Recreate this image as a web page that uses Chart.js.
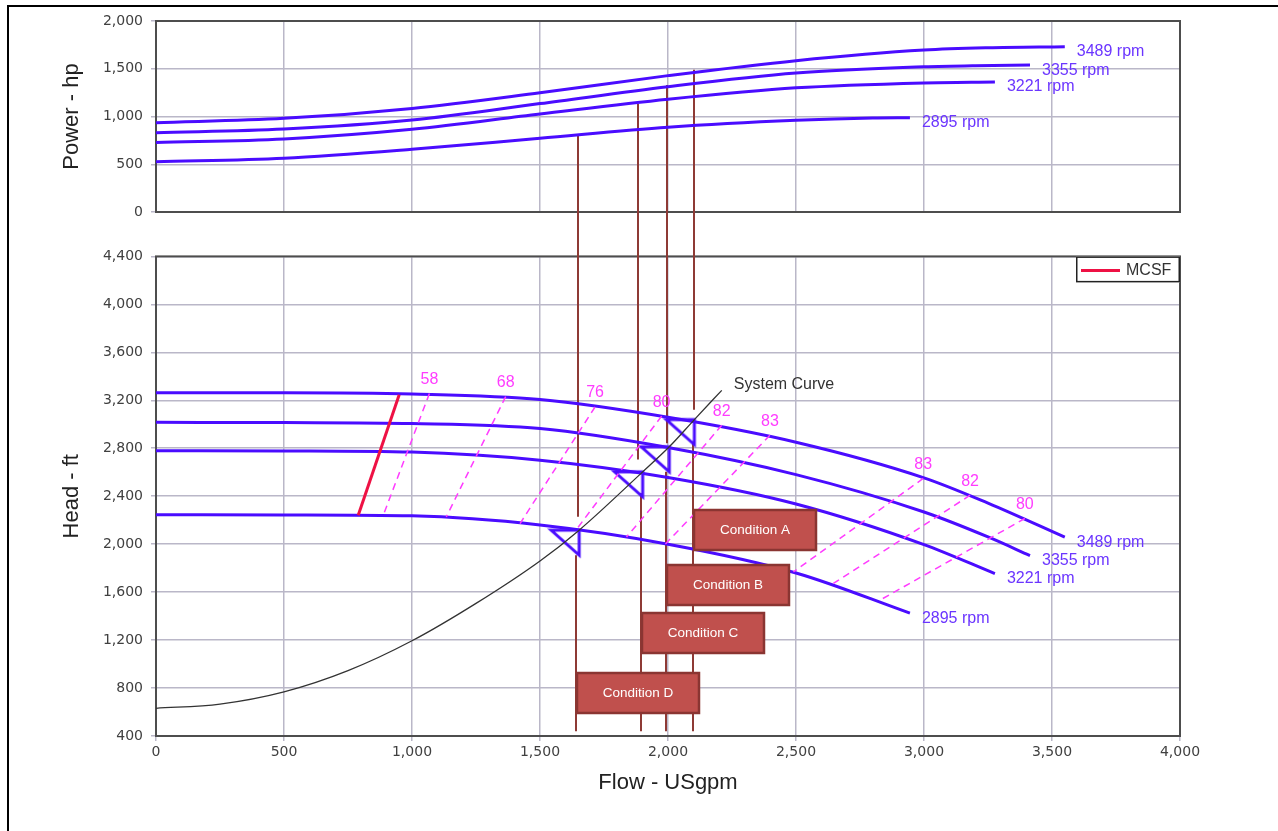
<!DOCTYPE html>
<html>
<head>
<meta charset="utf-8">
<script src="https://cdn.jsdelivr.net/npm/chart.js@4.4.1/dist/chart.umd.min.js"></script>
<style>
  html, body { margin: 0; padding: 0; background: #fff; overflow: hidden; }
  body { width: 1278px; height: 831px; position: relative; }
  #frame { position: absolute; left: 7px; top: 5px; width: 1290px; height: 840px; border: 2px solid #000; box-sizing: border-box; }
  canvas { position: absolute; left: 0; }
  #powerChart { top: 0; }
  #headChart { top: 240px; }
</style>
</head>
<body>
<div id="frame"></div>
<canvas id="powerChart" width="1278" height="240"></canvas>
<canvas id="headChart" width="1278" height="591"></canvas>
<script>
// axis ticks
const flowTicks = [0, 500, 1000, 1500, 2000, 2500, 3000, 3500, 4000];
const powerTicks = [0, 500, 1000, 1500, 2000];
const headTicks = [400, 800, 1200, 1600, 2000, 2400, 2800, 3200, 3600, 4000, 4400];

// power curves (hp vs USgpm)
const powerFlow3489 = [0, 500, 1000, 1500, 2000, 2500, 3000, 3250, 3550];
const power3489 = [935, 981, 1085, 1249, 1428, 1585, 1696, 1720, 1731];
const powerFlow3355 = [0, 500, 1000, 1500, 2000, 2500, 3000, 3200, 3414];
const power3355 = [830, 869, 963, 1135, 1312, 1455, 1520, 1532, 1538];
const powerFlow3221 = [0, 500, 1000, 1500, 2000, 2500, 3000, 3277];
const power3221 = [728, 765, 866, 1026, 1180, 1300, 1352, 1362];
const powerFlow2895 = [0, 500, 1000, 1500, 2000, 2500, 2800, 2945];
const power2895 = [525, 563, 656, 772, 887, 960, 985, 988];

// head curves (ft vs USgpm)
const headFlow3489 = [0, 500, 1000, 1500, 2000, 2500, 3000, 3250, 3550];
const head3489 = [3262, 3262, 3252, 3206, 3058, 2850, 2553, 2342, 2058];
const headFlow3355 = [0, 500, 1000, 1500, 2000, 2500, 3000, 3250, 3414];
const head3355 = [3016, 3014, 3006, 2964, 2806, 2580, 2268, 2060, 1905];
const headFlow3221 = [0, 500, 1000, 1500, 2000, 2500, 3000, 3277];
const head3221 = [2780, 2778, 2768, 2700, 2556, 2335, 1996, 1754];
const headFlow2895 = [0, 500, 1000, 1500, 2000, 2500, 2945];
const head2895 = [2246, 2244, 2236, 2160, 2000, 1760, 1425];

const mcsfFlow = [790, 950];
const mcsfHead = [2242, 3247];

const systemFlow = [0, 250, 500, 750, 1000, 1250, 1500, 1653, 1901, 2005, 2103, 2210];
const systemHead = [631, 666, 768, 945, 1194, 1506, 1860, 2117, 2603, 2812, 3039, 3283];

// efficiency lines, from the 3489 rpm curve down to the 2895 rpm curve
const effLabels = ['58', '68', '76', '80', '82', '83', '83', '82', '80'];
const effTopFlow = [1068, 1366, 1715, 1975, 2210, 2398, 2997, 3180, 3394];
const effTopHead = [3256, 3231, 3144, 3068, 2992, 2908, 2548, 2408, 2214];
const effBottomFlow = [888, 1134, 1422, 1645, 1838, 1990, 2490, 2646, 2828];
const effBottomHead = [2242, 2227, 2172, 2130, 2060, 2002, 1769, 1672, 1533];

// operating points on the system curve
const dutyFlow = [2103, 2005, 1901, 1653];
const dutyHead = [3039, 2812, 2603, 2117];

// conditions
const conditions = ['Condition A', 'Condition B', 'Condition C', 'Condition D'];
const condFlow = [2100, 1998, 1881, 1647];
const condPower = [1490, 1330, 1131, 813];
const condHeadTop = [3122, 2842, 2706, 2228];
const condLowFlow = [2096, 1994, 1895, 1642];
const condLowHead = [2853, 2603, 2425, 1908];
const condLineEnd = 440;
const condBoxHead = [2117, 1658, 1261, 761];

const blue = '#4a0cff';
const rpmText = '#6b35ff';
const magenta = '#ff3cff';
const brown = '#8e3a35';
const gridColor = '#bab7c8';
const tickColor = '#404040';
const tickFont = { family: 'DejaVu Sans', size: 14 };
const titleFont = { family: 'Liberation Sans', size: 22 };

const pts = (xs, ys) => xs.map((x, i) => ({ x, y: ys[i] }));
const fmt = v => v.toLocaleString('en-US');

function curve(label, xs, ys) {
    return {
        label, data: pts(xs, ys), borderColor: blue, borderWidth: 3,
        pointRadius: 0, cubicInterpolationMode: 'monotone', rpm: true
    };
}

function xScale(labels) {
    return {
        type: 'linear', min: 0, max: 4000,
        afterBuildTicks: s => { s.ticks = flowTicks.map(v => ({ value: v })); },
        grid: { color: gridColor, lineWidth: 1.5, tickLength: 5, drawTicks: labels },
        border: { display: false },
        ticks: { display: labels, font: tickFont, color: tickColor, padding: 3, maxRotation: 0, autoSkip: false, callback: fmt },
        title: { display: labels, text: 'Flow - USgpm', font: titleFont, color: '#222', padding: { top: 4, bottom: 35 } },
        afterFit: s => { s.height = labels ? 95 : 28; }
    };
}

function yScale(min, max, ticks, title) {
    return {
        min, max,
        afterBuildTicks: s => { s.ticks = ticks.map(v => ({ value: v })); },
        grid: { color: gridColor, lineWidth: 1.5, tickLength: 5 },
        border: { display: false },
        ticks: { font: tickFont, color: tickColor, padding: 8, autoSkip: false, callback: fmt },
        title: { display: true, text: title, font: titleFont, color: '#222', padding: { top: 59, bottom: 0 } },
        afterFit: s => { s.width = 156; }
    };
}

const framePlugin = {
    id: 'frame',
    beforeDatasetsDraw(chart) {
        const a = chart.chartArea, ctx = chart.ctx;
        ctx.save();
        ctx.strokeStyle = '#4d4d4d';
        ctx.lineWidth = 2;
        ctx.strokeRect(a.left, a.top, a.right - a.left, a.bottom - a.top);
        ctx.restore();
    }
};

const rpmLabels = {
    id: 'rpmLabels',
    afterDatasetsDraw(chart) {
        const ctx = chart.ctx;
        ctx.save();
        ctx.font = '16px "Liberation Sans"';
        ctx.fillStyle = rpmText;
        ctx.textBaseline = 'middle';
        chart.data.datasets.forEach((ds, i) => {
            if (!ds.rpm) return;
            const els = chart.getDatasetMeta(i).data;
            const p = els[els.length - 1];
            ctx.fillText(ds.label, p.x + 12, p.y + 5);
        });
        ctx.restore();
    }
};

const powerCondLines = {
    id: 'powerCondLines',
    beforeDatasetsDraw(chart) {
        const { ctx, scales: { x, y } } = chart;
        ctx.save();
        ctx.strokeStyle = brown;
        ctx.lineWidth = 2;
        condFlow.forEach((f, i) => {
            const px = Math.round(x.getPixelForValue(f));
            ctx.beginPath();
            ctx.moveTo(px, y.getPixelForValue(condPower[i]));
            ctx.lineTo(px, chart.height);
            ctx.stroke();
        });
        ctx.restore();
    }
};

new Chart(document.getElementById('powerChart'), {
    type: 'line',
    data: {
        datasets: [
            curve('3489 rpm', powerFlow3489, power3489),
            curve('3355 rpm', powerFlow3355, power3355),
            curve('3221 rpm', powerFlow3221, power3221),
            curve('2895 rpm', powerFlow2895, power2895)
        ]
    },
    options: {
        responsive: false,
        animation: false,
        layout: { padding: { left: 0, right: 98, top: 21, bottom: 0 } },
        plugins: { legend: { display: false }, tooltip: { enabled: false } },
        scales: {
            x: xScale(false),
            y: yScale(0, 2000, powerTicks, 'Power - hp')
        }
    },
    plugins: [framePlugin, powerCondLines, rpmLabels]
});

// operating point marker: open triangle hanging below-left of the point
const marker = document.createElement('canvas');
marker.width = 64;
marker.height = 60;
const m = marker.getContext('2d');
m.strokeStyle = blue;
m.lineWidth = 3;
m.beginPath();
m.moveTo(32, 30);
m.lineTo(4, 30);
m.lineTo(32, 55);
m.closePath();
m.stroke();

const headCondLines = {
    id: 'headCondLines',
    beforeDatasetsDraw(chart) {
        const { ctx, scales: { x, y } } = chart;
        ctx.save();
        ctx.strokeStyle = brown;
        ctx.lineWidth = 2;
        condFlow.forEach((f, i) => {
            const px = Math.round(x.getPixelForValue(f));
            ctx.beginPath();
            ctx.moveTo(px, 0);
            ctx.lineTo(px, y.getPixelForValue(condHeadTop[i]));
            ctx.stroke();
            const lx = Math.round(x.getPixelForValue(condLowFlow[i]));
            ctx.beginPath();
            ctx.moveTo(lx, y.getPixelForValue(condLowHead[i]));
            ctx.lineTo(lx, y.getPixelForValue(condLineEnd));
            ctx.stroke();
        });
        ctx.restore();
    }
};

const headLabels = {
    id: 'headLabels',
    afterDatasetsDraw(chart) {
        const { ctx, scales: { x, y } } = chart;
        ctx.save();
        ctx.font = '16px "Liberation Sans"';
        ctx.textBaseline = 'middle';
        chart.data.datasets.forEach((ds, i) => {
            const els = chart.getDatasetMeta(i).data;
            if (ds.eff) {
                ctx.fillStyle = magenta;
                ctx.textAlign = 'center';
                ctx.fillText(ds.label, els[0].x, els[0].y - 14);
            } else if (ds.system) {
                const p = els[els.length - 1];
                ctx.fillStyle = '#333';
                ctx.textAlign = 'left';
                ctx.fillText(ds.label, p.x + 12, p.y - 6);
            }
        });

        // condition boxes
        ctx.font = '13.5px "Liberation Sans"';
        ctx.textAlign = 'center';
        conditions.forEach((c, i) => {
            const left = Math.round(x.getPixelForValue(condLowFlow[i])) + 1;
            const top = Math.round(y.getPixelForValue(condBoxHead[i])) - 20;
            ctx.fillStyle = '#c0504d';
            ctx.fillRect(left, top, 122, 40);
            ctx.strokeStyle = '#8a3532';
            ctx.lineWidth = 2.5;
            ctx.strokeRect(left, top, 122, 40);
            ctx.fillStyle = '#fff';
            ctx.fillText(c, left + 61, top + 20);
        });

        // legend
        const ds = chart.data.datasets.find(d => d.label === 'MCSF');
        const a = chart.chartArea;
        const lw = 104, lh = 26, ll = a.right - lw, lt = a.top;
        ctx.fillStyle = '#fff';
        ctx.fillRect(ll, lt, lw, lh);
        ctx.strokeStyle = '#222';
        ctx.lineWidth = 1.5;
        ctx.strokeRect(ll + 0.75, lt + 0.75, lw - 1.5, lh - 1.5);
        ctx.strokeStyle = ds.borderColor;
        ctx.lineWidth = 3;
        ctx.beginPath();
        ctx.moveTo(ll + 5, lt + 14);
        ctx.lineTo(ll + 44, lt + 14);
        ctx.stroke();
        ctx.font = '16px "Liberation Sans"';
        ctx.fillStyle = '#333';
        ctx.textAlign = 'left';
        ctx.fillText(ds.label, ll + 50, lt + 14);
        ctx.restore();
    }
};

const effSets = effLabels.map((label, i) => ({
    label,
    data: [{ x: effTopFlow[i], y: effTopHead[i] }, { x: effBottomFlow[i], y: effBottomHead[i] }],
    borderColor: magenta, borderWidth: 1.5, borderDash: [7, 5], pointRadius: 0, eff: true
}));

new Chart(document.getElementById('headChart'), {
    type: 'line',
    data: {
        datasets: [
            ...effSets,
            {
                label: 'System Curve', data: pts(systemFlow, systemHead), borderColor: '#333',
                borderWidth: 1.3, pointRadius: 0, cubicInterpolationMode: 'monotone', system: true
            },
            {
                label: 'MCSF', data: pts(mcsfFlow, mcsfHead), borderColor: '#ee1144',
                borderWidth: 3, pointRadius: 0
            },
            curve('3489 rpm', headFlow3489, head3489),
            curve('3355 rpm', headFlow3355, head3355),
            curve('3221 rpm', headFlow3221, head3221),
            curve('2895 rpm', headFlow2895, head2895),
            {
                label: 'Duty', data: pts(dutyFlow, dutyHead), showLine: false,
                pointStyle: marker, pointRadius: 14, borderWidth: 0
            }
        ]
    },
    options: {
        responsive: false,
        animation: false,
        layout: { padding: { left: 0, right: 98, top: 16, bottom: 0 } },
        plugins: { legend: { display: false }, tooltip: { enabled: false } },
        scales: {
            x: xScale(true),
            y: yScale(400, 4400, headTicks, 'Head - ft')
        }
    },
    plugins: [framePlugin, headCondLines, rpmLabels, headLabels]
});
</script>
</body>
</html>
